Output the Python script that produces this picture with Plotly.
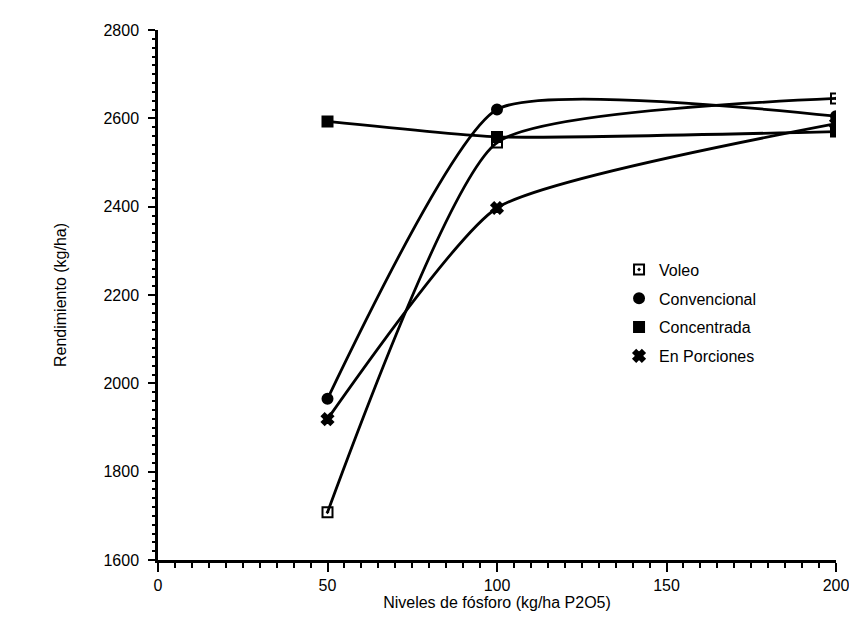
import plotly.graph_objects as go

x_levels = [50, 100, 200]
voleo = [1708, 2545, 2645]
convencional = [1965, 2620, 2605]
concentrada = [2593, 2558, 2570]
en_porciones = [1919, 2397, 2588]

series = [
    ("Voleo", voleo, "square-open-dot"),
    ("Convencional", convencional, "circle"),
    ("Concentrada", concentrada, "square"),
    ("En Porciones", en_porciones, "x"),
]

fig = go.Figure()
for name, vals, sym in series:
    fig.add_trace(go.Scatter(
        x=x_levels, y=vals, name=name, mode="lines", showlegend=False,
        line=dict(color="black", width=2.8, shape="spline", smoothing=0.5),
        hoverinfo="skip",
    ))
for name, vals, sym in series:
    fig.add_trace(go.Scatter(
        x=x_levels, y=vals, name=name, mode="markers", legendgroup=name,
        marker=dict(symbol=sym, size=10, color="black",
                    line=dict(color="black", width=2)),
    ))

font = "Liberation Sans, Arial, sans-serif"
fig.update_layout(
    width=857, height=621,
    margin=dict(l=150, r=29, t=22, b=69),
    paper_bgcolor="white", plot_bgcolor="white",
    font=dict(family=font, size=15, color="black"),
    legend=dict(x=0.68, y=0.58, xanchor="left", yanchor="top",
                bgcolor="rgba(0,0,0,0)", font=dict(size=16),
                itemwidth=30, tracegroupgap=5),
    showlegend=True,
)
fig.update_xaxes(
    range=[0, 200], tickvals=[0, 50, 100, 150, 200],
    showgrid=False, zeroline=False, showline=True, linecolor="black", linewidth=2.5,
    ticks="outside", ticklen=9, tickwidth=2, tickcolor="black",
    minor=dict(dtick=5, ticks="outside", ticklen=5, tickwidth=1.5, tickcolor="black", showgrid=False),
    title=dict(text="Niveles de fósforo (kg/ha P2O5)", standoff=4, font=dict(size=16)),
    tickfont=dict(size=16),
)
fig.update_yaxes(
    range=[1600, 2800], tickvals=[1600, 1800, 2000, 2200, 2400, 2600, 2800],
    showgrid=False, zeroline=False, showline=True, linecolor="black", linewidth=2.5,
    ticks="outside", ticklen=7, tickwidth=2, tickcolor="black", ticklabelstandoff=6,
    minor=dict(dtick=20, ticks="outside", ticklen=3, tickwidth=1.5, tickcolor="black", showgrid=False),
    title=dict(text="Rendimiento (kg/ha)", standoff=33, font=dict(size=16)),
    tickfont=dict(size=16),
)

fig.write_html("out.html")
